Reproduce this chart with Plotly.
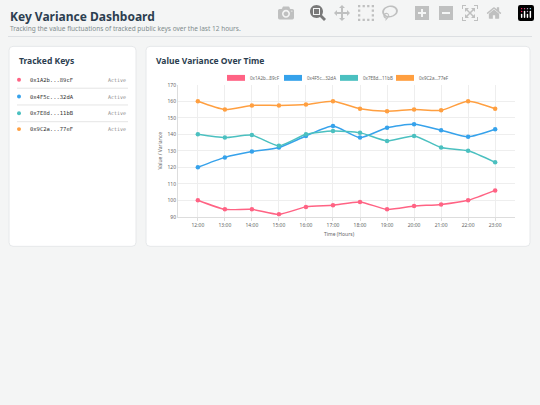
import plotly.graph_objects as go

hours = ["12:00","13:00","14:00","15:00","16:00","17:00","18:00","19:00","20:00","21:00","22:00","23:00"]
keys = ["0x1A2b...89cF", "0x4F5c...32dA", "0x7E8d...11bB", "0x9C2a...77eF"]
colors = ["#ff6384", "#36a2eb", "#4bc0c0", "#ff9f40"]
pink = [100, 94.5, 94.5, 91.5, 96, 97, 99, 94.5, 96.5, 97.5, 100, 106]
blue = [120, 126, 129.5, 132, 139, 145, 138, 144, 146, 142.5, 138.5, 143]
teal = [140, 138, 139.5, 133, 140, 142, 141, 136, 139, 132, 130, 123]
orange = [160, 155, 157.5, 157.5, 158, 160, 155.5, 154, 155, 154.5, 160, 155.5]
series = [pink, blue, teal, orange]

W, H = 540, 405
px = lambda x: x / W
py = lambda y: 1 - y / H

fig = go.Figure()
for name, vals, c in zip(keys, series, colors):
    fig.add_trace(go.Scatter(x=hours, y=vals, name=name, mode="lines+markers",
                             line=dict(color=c, width=1.5, shape="spline", smoothing=0.6),
                             marker=dict(color=c, size=4.5), showlegend=False))

def rrect(x0, y0, x1, y1, r=4):
    X0, X1 = px(x0), px(x1)
    Y0, Y1 = py(y0), py(y1)
    rx, ry = r / W, r / H
    p = (f"M{X0+rx},{Y0} L{X1-rx},{Y0} Q{X1},{Y0} {X1},{Y0-ry} L{X1},{Y1+ry} Q{X1},{Y1} {X1-rx},{Y1} "
         f"L{X0+rx},{Y1} Q{X0},{Y1} {X0},{Y1+ry} L{X0},{Y0-ry} Q{X0},{Y0} {X0+rx},{Y0} Z")
    return dict(type="path", xref="paper", yref="paper", path=p, fillcolor="white",
                line=dict(color="#e6e8ea", width=1), layer="below")

shapes = [rrect(9, 44, 136, 247), rrect(146, 44, 530, 247),
          dict(type="line", xref="paper", yref="paper", x0=px(8), x1=px(532), y0=py(34), y1=py(34),
               line=dict(color="#dcdfe2", width=1))]
ann = [
    dict(x=px(8), y=py(14), text="<b>Key Variance Dashboard</b>", font=dict(size=12, color="#2c3e50")),
    dict(x=px(8), y=py(26), text="Tracking the value fluctuations of tracked public keys over the last 12 hours.",
         font=dict(size=6.5, color="#7f8c8d")),
    dict(x=px(17), y=py(58), text="<b>Tracked Keys</b>", font=dict(size=8.5, color="#2c3e50")),
    dict(x=px(154), y=py(58), text="<b>Value Variance Over Time</b>", font=dict(size=8.5, color="#2c3e50")),
    dict(x=px(339), y=py(234), text="Time (Hours)", font=dict(size=5, color="#666"), xanchor="center"),
]
rows = [78, 95, 112, 128]
for i, (k, c, yy) in enumerate(zip(keys, colors, rows)):
    shapes.append(dict(type="circle", xref="paper", yref="paper", x0=px(17), x1=px(21), y0=py(yy-2), y1=py(yy+2),
                       fillcolor=c, line=dict(width=0)))
    ann.append(dict(x=px(28), y=py(yy), text=k, font=dict(size=5.5, color="#333", family="DejaVu Sans Mono")))
    ann.append(dict(x=px(128), y=py(yy), text="Active", xanchor="right",
                    font=dict(size=5, color="#888", family="DejaVu Sans Mono")))
    if i < 3:
        shapes.append(dict(type="line", xref="paper", yref="paper", x0=px(17), x1=px(128),
                           y0=py(yy+8.5), y1=py(yy+8.5), line=dict(color="#e5e5e5", width=1)))
lx = [227, 284, 340, 396]
for k, c, x in zip(keys, colors, lx):
    shapes.append(dict(type="rect", xref="paper", yref="paper", x0=px(x), x1=px(x+18), y0=py(73), y1=py(79),
                       fillcolor=c, line=dict(width=0)))
    ann.append(dict(x=px(x+21), y=py(76), text=k, font=dict(size=4.5, color="#666")))
for a in ann:
    a.update(xref="paper", yref="paper", showarrow=False, yanchor="middle")
    a.setdefault("xanchor", "left")
    a["font"].setdefault("family", "Noto Sans")

fig.update_layout(
    width=W, height=H, margin=dict(l=0, r=0, t=0, b=0),
    paper_bgcolor="#f4f5f5", plot_bgcolor="white",
    shapes=shapes, annotations=ann,
    font=dict(family="Noto Sans", size=5, color="#666"),
    xaxis=dict(domain=[px(178), px(515)], showgrid=True, gridcolor="#eeeeee", linecolor="#dddddd",
               ticks="outside", ticklen=3, tickcolor="#dddddd", tickfont=dict(size=5)),
    yaxis=dict(domain=[py(217), py(83)], range=[90, 170], dtick=10, showgrid=True, gridcolor="#eeeeee",
               linecolor="#dddddd", zeroline=False, tickfont=dict(size=5),
               title=dict(text="Value / Variance", font=dict(size=5), standoff=4)),
)
fig.write_html("out.html", post_script="document.body.style.margin='0';document.body.style.background='#f4f5f5';document.body.style.overflow='hidden';")
